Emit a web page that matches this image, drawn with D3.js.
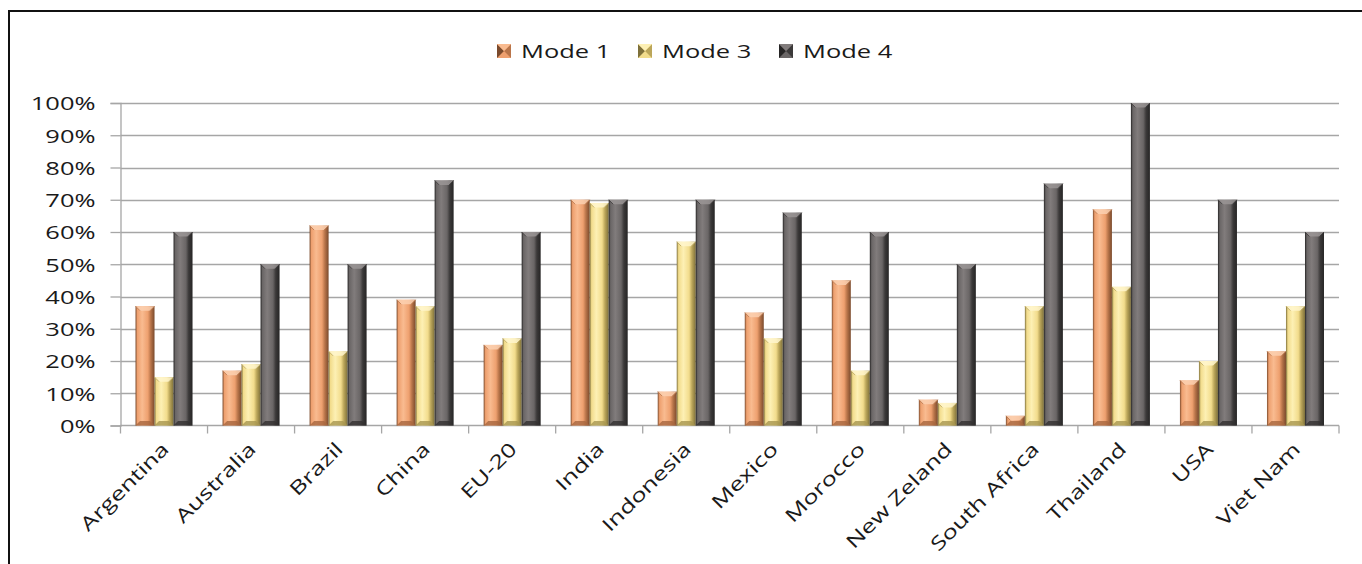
<!DOCTYPE html>
<html>
<head>
<meta charset="utf-8">
<script src="https://cdn.jsdelivr.net/npm/d3@7"></script>
<style>
  html, body { margin: 0; padding: 0; background: #fff; }
  svg { display: block; }
  text { font-family: "Open Sans", "Noto Sans", sans-serif; fill: #1a1a1a; }
</style>
</head>
<body>
<svg id="chart" width="1362" height="564"></svg>
<script>
// Categories and series (percent)
const countries = ["Argentina", "Australia", "Brazil", "China", "EU-20", "India", "Indonesia",
  "Mexico", "Morocco", "New Zeland", "South Africa", "Thailand", "USA", "Viet Nam"];
const seriesNames = ["Mode 1", "Mode 3", "Mode 4"];
const mode1 = [37, 17, 62, 39, 25, 70, 10.5, 35, 45, 8, 3, 67, 14, 23];
const mode3 = [15, 19, 23, 37, 27, 69, 57, 27, 17, 7, 37, 43, 20, 37];
const mode4 = [60, 50, 50, 76, 60, 70, 70, 66, 60, 50, 75, 100, 70, 60];
const yTicks = [0, 10, 20, 30, 40, 50, 60, 70, 80, 90, 100];

const seriesValues = [mode1, mode3, mode4];

// Bar palettes
const palettes = [
  { dark: "#7a4a2c", body: "#eea06f", light: "#f9bb90", shade: "#b9754a", top: "#fcd0b0", bottom: "#a8673f" },
  { dark: "#7e703a", body: "#f2dc8c", light: "#fdf0b4", shade: "#bba65a", top: "#fff6cc", bottom: "#a89650" },
  { dark: "#262525", body: "#6a6666", light: "#817c7c", shade: "#3b3939", top: "#9a9595", bottom: "#333131" }
];

// Text is drawn slightly widened along its baseline
const FS = 19, SX = 1.34;

const svg = d3.select("#chart");
const W = 1362, H = 564;
const margin = { left: 120.5, right: 23, top: 103, bottom: 138.5 };

// Outer frame (top and left edges)
svg.append("line").attr("x1", 9).attr("x2", W).attr("y1", 11).attr("y2", 11)
  .attr("stroke", "#111").attr("stroke-width", 2);
svg.append("line").attr("x1", 9).attr("x2", 9).attr("y1", 10).attr("y2", H)
  .attr("stroke", "#111").attr("stroke-width", 2);

const x = d3.scaleBand().domain(countries).range([margin.left, W - margin.right]).paddingInner(0).paddingOuter(0);
const y = d3.scaleLinear().domain([0, 100]).range([H - margin.bottom, margin.top]);
const groupFrac = 0.655;
const xs = d3.scaleBand().domain(seriesNames).range([0, x.bandwidth() * groupFrac]).padding(0);

// Gradients
const defs = svg.append("defs");
palettes.forEach((p, i) => {
  const g = defs.append("linearGradient").attr("id", "grad" + i)
    .attr("x1", "0%").attr("x2", "100%").attr("y1", "0%").attr("y2", "0%");
  [[0, p.dark], [0.1, p.body], [0.35, p.light], [0.65, p.body], [0.8, p.shade], [1, p.dark]]
    .forEach(([o, c]) => g.append("stop").attr("offset", o).attr("stop-color", c));
});

// Gridlines
svg.append("g").selectAll("line").data(yTicks.filter(d => d > 0)).join("line")
  .attr("x1", margin.left).attr("x2", W - margin.right)
  .attr("y1", d => Math.round(y(d)) + 0.5).attr("y2", d => Math.round(y(d)) + 0.5)
  .attr("stroke", "#a6a6a6").attr("stroke-width", 1.3);

// Y axis
const yAxis = d3.axisLeft(y).tickValues(yTicks).tickFormat(d => d + "%").tickSize(10).tickPadding(14);
const gy = svg.append("g").attr("transform", `translate(${margin.left},0)`).call(yAxis);
gy.select(".domain").attr("stroke", "#a6a6a6").attr("stroke-width", 1.3);
gy.selectAll(".tick line").attr("stroke", "#a6a6a6").attr("stroke-width", 1.3);
gy.selectAll("text").attr("font-size", FS).attr("fill", "#1a1a1a").attr("dy", "0.36em")
  .attr("x", 0).attr("transform", `translate(-25,0) scale(${SX},1)`);

// X axis
const tickPos = countries.map(c => x(c)).concat([W - margin.right]);
const gx = svg.append("g").attr("transform", `translate(0,${y(0)})`);
gx.append("line").attr("x1", margin.left).attr("x2", W - margin.right).attr("y1", 0).attr("y2", 0)
  .attr("stroke", "#a6a6a6").attr("stroke-width", 1.3);
gx.selectAll("line.tk").data(tickPos).join("line").attr("class", "tk")
  .attr("x1", d => d).attr("x2", d => d).attr("y1", 0).attr("y2", 8)
  .attr("stroke", "#a6a6a6").attr("stroke-width", 1.3);
gx.selectAll("text").data(countries).join("text")
  .attr("transform", d => `translate(${x(d) + x.bandwidth() / 2 + 6},${25}) rotate(-45) scale(${SX},1)`)
  .attr("text-anchor", "end").attr("font-size", FS).text(d => d);

// Bevelled bars
const bars = svg.append("g");
countries.forEach((c, ci) => {
  const gx0 = x(c) + (x.bandwidth() - x.bandwidth() * groupFrac) / 2;
  seriesNames.forEach((s, si) => {
    const v = seriesValues[si][ci];
    const p = palettes[si];
    const bx = gx0 + xs(s), bw = xs.bandwidth();
    const by = y(v), bh = y(0) - y(v);
    const g = bars.append("g");
    g.append("rect").attr("x", bx).attr("y", by).attr("width", bw).attr("height", bh)
      .attr("fill", `url(#grad${si})`);
    const k = Math.min(4.5, bh / 2);
    // top facet
    g.append("polygon").attr("points", [[bx, by], [bx + bw, by], [bx + bw - k, by + k], [bx + k, by + k]].join(" "))
      .attr("fill", p.top).attr("opacity", 0.85);
    // bottom facet
    g.append("polygon").attr("points", [[bx, by + bh], [bx + bw, by + bh], [bx + bw - k, by + bh - k], [bx + k, by + bh - k]].join(" "))
      .attr("fill", p.bottom).attr("opacity", 0.8);
    // top bevel diagonals
    g.append("path").attr("d", `M${bx},${by}L${bx + k},${by + k}M${bx + bw},${by}L${bx + bw - k},${by + k}`)
      .attr("stroke", p.shade).attr("stroke-width", 0.8).attr("fill", "none");
  });
});

// Legend
const legendItems = [
  { name: "Mode 1", x: 497 },
  { name: "Mode 3", x: 638 },
  { name: "Mode 4", x: 779 }
];
const lg = svg.append("g");
legendItems.forEach((d, i) => {
  const p = palettes[i];
  const s = 14, lx = d.x, ly = 44;
  lg.append("rect").attr("x", lx).attr("y", ly).attr("width", s).attr("height", s).attr("fill", p.body);
  lg.append("polygon").attr("points", [[lx, ly], [lx + s / 2, ly + s / 2], [lx, ly + s]].join(" ")).attr("fill", p.dark);
  lg.append("polygon").attr("points", [[lx + s, ly], [lx + s / 2, ly + s / 2], [lx + s, ly + s]].join(" ")).attr("fill", p.shade);
  lg.append("polygon").attr("points", [[lx, ly], [lx + s / 2, ly + s / 2], [lx + s, ly]].join(" ")).attr("fill", p.light);
  lg.append("text").attr("transform", `translate(${lx + s + 10},${ly + s / 2}) scale(${SX},1)`)
    .attr("dy", "0.36em").attr("font-size", FS).text(d.name);
});
</script>
</body>
</html>
